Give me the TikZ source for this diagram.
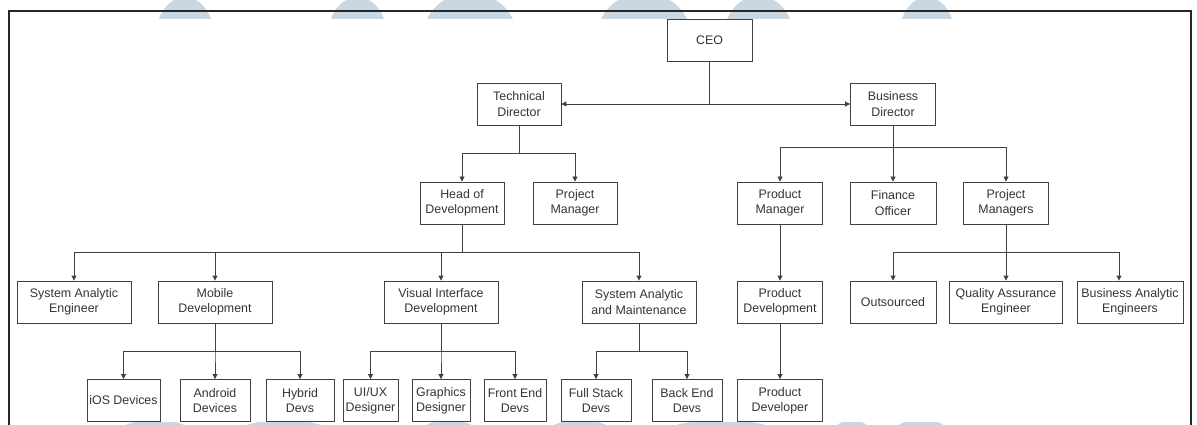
\documentclass[tikz,border=0pt]{standalone}
\usepackage{fontspec}
\setmainfont{Liberation Sans}
\usetikzlibrary{arrows.meta}

\definecolor{lineColor}{RGB}{64,64,64}
\definecolor{textColor}{RGB}{51,51,51}
\definecolor{markColor}{RGB}{201,215,226}

\begin{document}
\begin{tikzpicture}[x=1pt,y=-1pt,line width=0.9pt,
  role/.style={draw=lineColor, text=textColor, align=center, inner sep=0pt,
    minimum height=42pt, font=\fontsize{12.4}{15.3}\selectfont},
  link/.style={draw=lineColor, -{Triangle[length=5pt,width=5pt]}}]
  \useasboundingbox (0,0) rectangle (1197,425);
  % Watermark
  \begin{scope}
    \clip (0,0) rectangle (1197,19);
    \foreach \cx/\rx/\cy/\ry in {185/28.6/34.6/37.4, 357.5/29.2/34.6/37.4,
        470/47.3/37.8/45, 644/47.3/37.8/45, 758.5/34.6/36/40, 927/27.5/34.6/37.4}
      \fill[markColor] (\cx,\cy) ellipse [x radius=\rx, y radius=\ry];
  \end{scope}
  \begin{scope}
    \clip (0,422) rectangle (1197,425);
    \foreach \cx/\rx in {155/36, 284/45, 449/28, 580/32, 721/55, 852/18, 921/28}
      \fill[markColor] (\cx,432) ellipse [x radius=\rx, y radius=12];
  \end{scope}
  \draw[line width=1.4pt, black!85] (9,426) -- (9,11) -- (1191,11) -- (1191,426);

  % Top
  \node[role, minimum width=85pt] (ceo) at (709.5,40) {CEO};
  \node[role, minimum width=84pt] (techDir) at (519,104) {Technical\\Director};
  \node[role, minimum width=85pt] (busDir) at (893,104) {Business\\Director};
  % Second level
  \node[role, minimum width=84pt] (headDev) at (462,203) {Head of\\Development};
  \node[role, minimum width=84pt] (projMgr) at (575,203) {Project\\Manager};
  \node[role, minimum width=85pt] (prodMgr) at (780,203) {Product\\Manager};
  \node[role, minimum width=86pt] (finOff) at (893,203) {Finance\\Officer};
  \node[role, minimum width=85pt] (projMgrs) at (1006,203) {Project\\Managers};
  % Third level
  \node[role, minimum width=114pt] (sysEng) at (74,302) {System Analytic\\Engineer};
  \node[role, minimum width=114pt] (mobDev) at (215,302) {Mobile\\Development};
  \node[role, minimum width=114pt] (visDev) at (441,302) {Visual Interface\\Development};
  \node[role, minimum width=114pt] (sysMaint) at (639,302) {System Analytic\\and Maintenance};
  \node[role, minimum width=85pt] (prodDev) at (780,302) {Product\\Development};
  \node[role, minimum width=86pt] (outsrc) at (893,302) {Outsourced};
  \node[role, minimum width=113pt] (qaEng) at (1006,302) {Quality Assurance\\Engineer};
  \node[role, minimum width=106pt] (baEng) at (1130,302) {Business Analytic\\Engineers};
  % Fourth level
  \node[role, minimum width=73pt] (ios) at (123.5,400.5) {iOS Devices};
  \node[role, minimum width=70pt] (android) at (215,400.5) {Android\\Devices};
  \node[role, minimum width=68pt] (hybrid) at (300,400.5) {Hybrid\\Devs};
  \node[role, minimum width=55pt] (uiux) at (370.5,400.5) {UI/UX\\Designer};
  \node[role, minimum width=58pt] (graphics) at (441,400.5) {Graphics\\Designer};
  \node[role, minimum width=62pt] (frontEnd) at (515,400.5) {Front End\\Devs};
  \node[role, minimum width=70pt] (fullStack) at (596,400.5) {Full Stack\\Devs};
  \node[role, minimum width=70pt] (backEnd) at (687,400.5) {Back End\\Devs};
  \node[role, minimum width=85pt] (prodDevr) at (780,400.5) {Product\\Developer};

  % Connectors
  \draw[link] (ceo.south) |- (techDir.east);
  \draw[link] (ceo.south) |- (busDir.west);
  \foreach \to in {headDev,projMgr}
    \draw[link] (techDir.south) -- ++(0,28) -| (\to.north);
  \foreach \to in {prodMgr,finOff,projMgrs}
    \draw[link] (busDir.south) -- ++(0,22) -| (\to.north);
  \foreach \to in {sysEng,mobDev,visDev,sysMaint}
    \draw[link] (headDev.south) -- ++(0,28) -| (\to.north);
  \draw[link] (prodMgr.south) -- (prodDev.north);
  \foreach \to in {outsrc,qaEng}
    \draw[link] (projMgrs.south) -- ++(0,28) -| (\to.north);
  \draw[link] (projMgrs.south) -- ++(0,28) -| ([xshift=-11pt]baEng.north);
  \foreach \to in {ios,android,hybrid}
    \draw[link] (mobDev.south) -- ++(0,28) -| (\to.north);
  \foreach \to in {uiux,graphics,frontEnd}
    \draw[link] (visDev.south) -- ++(0,28) -| (\to.north);
  \foreach \to in {fullStack,backEnd}
    \draw[link] (sysMaint.south) -- ++(0,28) -| (\to.north);
  \draw[link] (prodDev.south) -- (prodDevr.north);
\end{tikzpicture}
\end{document}
